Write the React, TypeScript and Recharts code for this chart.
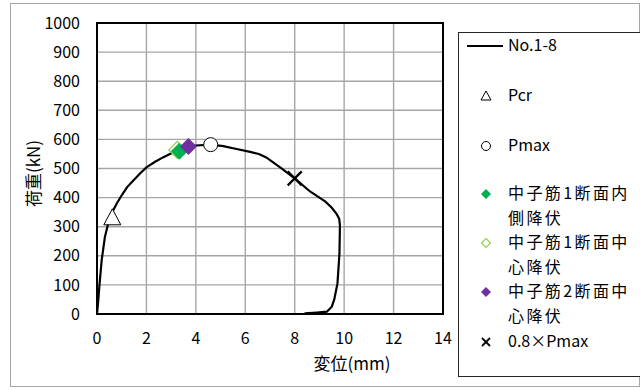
import React from "react";
import {
  ComposedChart,
  Scatter,
  XAxis,
  YAxis,
  CartesianGrid,
  ReferenceArea,
  Label,
} from "recharts";

// 荷重-変位曲線 (No.1-8)
const curveDisp = [0, 0.05, 0.1, 0.19, 0.32, 0.45, 0.6, 0.8, 1.0, 1.22, 1.47, 1.75, 2.0, 2.35, 2.69, 3.09, 3.5, 4.0, 4.6, 5.11, 5.6, 6.2, 6.55, 6.85, 7.1, 7.41, 8.0, 8.62, 9.0, 9.23, 9.5, 9.7, 9.8, 9.83, 9.81, 9.73, 9.6, 9.5, 9.3, 8.9, 8.4];
const curveLoad = [0, 45, 100, 185, 265, 310, 347, 380, 408, 436, 459, 484, 504, 523, 539, 556, 570, 579, 582, 577, 568, 557, 550, 538, 523, 504, 466, 421, 400, 387, 365, 343, 327, 305, 208, 105, 50, 25, 8, 5, 2];

// 特異点
const pcr = [{ x: 0.62, y: 334 }];
const pmax = [{ x: 4.6, y: 582 }];
const yieldInner1 = [{ x: 3.33, y: 559 }];
const yieldCenter1 = [{ x: 3.25, y: 564 }];
const yieldCenter2 = [{ x: 3.7, y: 576 }];
const pmax80 = [{ x: 8.0, y: 466 }];

const xTicks = [0, 2, 4, 6, 8, 10, 12, 14];
const yTicks = [0, 100, 200, 300, 400, 500, 600, 700, 800, 900, 1000];

const curve = curveDisp.map((x, i) => ({ x, y: curveLoad[i] }));

const FONT = '"Noto Sans CJK JP", "Noto Sans", sans-serif';
const GREEN = "#00b050";
const LIGHT_GREEN = "#92d050";
const PURPLE = "#7030a0";

const Triangle = ({ cx, cy }: any) => (
  <path
    d={`M${cx},${cy - 8} L${cx + 8.5},${cy + 8} L${cx - 8.5},${cy + 8} Z`}
    fill="#fff"
    stroke="#000"
    strokeWidth={1}
  />
);

const Circle = ({ cx, cy }: any) => (
  <circle cx={cx} cy={cy} r={7} fill="#fff" stroke="#000" strokeWidth={1} />
);

const diamond = (fill: string, stroke: string, sw = 1) => ({ cx, cy }: any) => (
  <path
    d={`M${cx},${cy - 8.5} L${cx + 8.5},${cy} L${cx},${cy + 8.5} L${cx - 8.5},${cy} Z`}
    fill={fill}
    stroke={stroke}
    strokeWidth={sw}
  />
);

const Cross = ({ cx, cy }: any) => (
  <g stroke="#000" strokeWidth={2.2}>
    <line x1={cx - 7} y1={cy - 7} x2={cx + 7} y2={cy + 7} />
    <line x1={cx - 7} y1={cy + 7} x2={cx + 7} y2={cy - 7} />
  </g>
);

const NoDot = () => null;

type LegendRow = { lines: string[]; top: number; icon: React.ReactNode };

const legendRows: LegendRow[] = [
  {
    lines: ["No.1-8"],
    top: 45,
    icon: <line x1={0} y1={10} x2={36} y2={10} stroke="#000" strokeWidth={2} />,
  },
  {
    lines: ["Pcr"],
    top: 95,
    icon: <path d="M19,5 L24,14 L14,14 Z" fill="#fff" stroke="#000" strokeWidth={1} />,
  },
  {
    lines: ["Pmax"],
    top: 145,
    icon: <circle cx={19} cy={10} r={4.5} fill="#fff" stroke="#000" strokeWidth={1} />,
  },
  {
    lines: ["中子筋1断面内", "側降伏"],
    top: 193,
    icon: <path d="M19,5 L24,10 L19,15 L14,10 Z" fill={GREEN} />,
  },
  {
    lines: ["中子筋1断面中", "心降伏"],
    top: 242,
    icon: <path d="M19,5.5 L23.5,10 L19,14.5 L14.5,10 Z" fill="#fff" stroke={LIGHT_GREEN} strokeWidth={1.2} />,
  },
  {
    lines: ["中子筋2断面中", "心降伏"],
    top: 291,
    icon: <path d="M19,5 L24,10 L19,15 L14,10 Z" fill={PURPLE} />,
  },
  {
    lines: ["0.8×Pmax"],
    top: 341,
    icon: (
      <g stroke="#000" strokeWidth={1.8}>
        <line x1={15} y1={6} x2={23} y2={14} />
        <line x1={15} y1={14} x2={23} y2={6} />
      </g>
    ),
  },
];

function ChartLegend() {
  return (
    <div
      style={{
        position: "absolute",
        left: 458,
        top: 32,
        width: 182,
        height: 345,
        border: "1px solid #262626",
        borderRight: "none",
        boxSizing: "border-box",
        background: "#fff",
        fontFamily: FONT,
        color: "#000",
      }}
    >
      {legendRows.map((row) => (
        <div
          key={row.lines[0]}
          style={{ position: "absolute", left: 0, top: row.top - 32 - 14, width: 182 }}
        >
          <svg width={45} height={20} style={{ position: "absolute", left: 8, top: 4 }}>
            {row.icon}
          </svg>
          <div
            style={{
              position: "absolute",
              left: 49,
              top: 0,
              fontSize: 16,
              lineHeight: "24.5px",
              whiteSpace: "nowrap",
              letterSpacing: row.lines.length > 1 ? 2.4 : 0,
            }}
          >
            {row.lines.map((l) => (
              <div key={l}>{l}</div>
            ))}
          </div>
        </div>
      ))}
    </div>
  );
}

export default function App() {
  return (
    <div
      style={{
        position: "absolute",
        left: 0,
        top: 0,
        width: 643,
        height: 390,
        background: "#fff",
        overflow: "hidden",
      }}
    >
      <div
        style={{
          position: "absolute",
          left: 10,
          top: 3,
          width: 630,
          height: 384,
          border: "1.5px solid #a6a6a6",
          boxSizing: "border-box",
        }}
      />
      <ComposedChart
        width={643}
        height={390}
        margin={{ top: 23, right: 200, bottom: 46, left: 0 }}
        style={{ position: "absolute", left: 0, top: 0, fontFamily: FONT }}
      >
        <CartesianGrid stroke="#a6a6a6" strokeWidth={1.4} />
        <XAxis
          type="number"
          dataKey="x"
          domain={[0, 14]}
          ticks={xTicks}
          allowDataOverflow
          height={30}
          tickLine={false}
          tickSize={6}
          tickMargin={13}
          axisLine={{ stroke: "#000", strokeWidth: 2 }}
          tick={{ fill: "#000", fontSize: 16 }}
        >
          <Label
            value="変位(mm)"
            position="bottom"
            offset={14}
            dx={82}
            style={{ fontSize: 17, fill: "#000" }}
          />
        </XAxis>
        <YAxis
          type="number"
          dataKey="y"
          domain={[0, 1000]}
          ticks={yTicks}
          allowDataOverflow
          width={97}
          tickLine={false}
          tickSize={6}
          tickMargin={11}
          axisLine={{ stroke: "#000", strokeWidth: 2 }}
          tick={{ fill: "#000", fontSize: 16 }}
        >
          <Label
            value="荷重(kN)"
            position="center"
            angle={-90}
            dx={-15}
            dy={5}
            style={{ fontSize: 17, fill: "#000", textAnchor: "middle" }}
          />
        </YAxis>
        <ReferenceArea
          x1={0}
          x2={14}
          y1={0}
          y2={1000}
          fill="none"
          fillOpacity={0}
          stroke="#000"
          strokeWidth={2}
        />
        <Scatter
          name="No.1-8"
          data={curve}
          line={{ stroke: "#000", strokeWidth: 2.2 }}
          lineType="joint"
          shape={NoDot}
          isAnimationActive={false}
        />
        <Scatter name="Pcr" data={pcr} shape={Triangle} isAnimationActive={false} />
        <Scatter name="Pmax" data={pmax} shape={Circle} isAnimationActive={false} />
        <Scatter
          name="中子筋1断面中心降伏"
          data={yieldCenter1}
          shape={diamond("#fff", LIGHT_GREEN, 1.3)}
          isAnimationActive={false}
        />
        <Scatter
          name="中子筋1断面内側降伏"
          data={yieldInner1}
          shape={diamond(GREEN, GREEN, 0)}
          isAnimationActive={false}
        />
        <Scatter
          name="中子筋2断面中心降伏"
          data={yieldCenter2}
          shape={diamond(PURPLE, PURPLE, 0)}
          isAnimationActive={false}
        />
        <Scatter name="0.8×Pmax" data={pmax80} shape={Cross} isAnimationActive={false} />
      </ComposedChart>
      <ChartLegend />
    </div>
  );
}
